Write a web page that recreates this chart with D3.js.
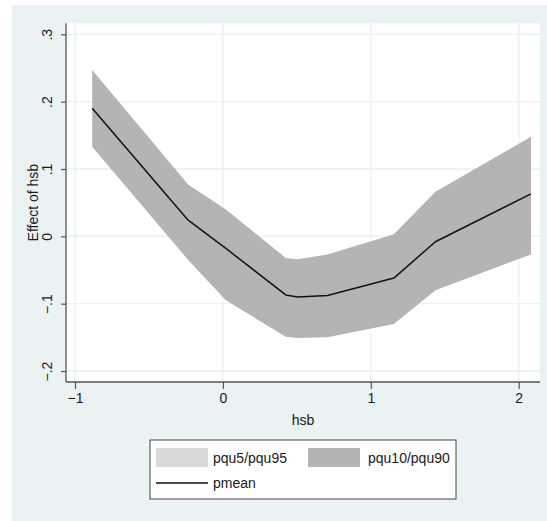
<!DOCTYPE html>
<html>
<head>
<meta charset="utf-8">
<script src="https://cdn.jsdelivr.net/npm/d3@7"></script>
<style>
  html, body { margin: 0; padding: 0; background: #ffffff; }
  svg { display: block; }
  text { font-family: "Liberation Sans Narrow", "Liberation Sans", Arial, sans-serif; fill: #1a1a1a; }
</style>
</head>
<body>
<script>
// ---- data ----
const hsb   = [-0.884, -0.235, 0.02, 0.425, 0.505, 0.707, 1.156, 1.437, 2.083];
const pmean = [0.190, 0.024, -0.018, -0.087, -0.090, -0.088, -0.062, -0.008, 0.063];
const pqu90 = [0.247, 0.077, 0.040, -0.032, -0.034, -0.027, 0.003, 0.066, 0.148];
const pqu10 = [0.133, -0.035, -0.095, -0.149, -0.151, -0.150, -0.130, -0.080, -0.027];
const xTicks = [-1, 0, 1, 2];
const yTicks = [-0.2, -0.1, 0, 0.1, 0.2, 0.3];
const yTickLabels = ["\u2212.2", "\u2212.1", "0", ".1", ".2", ".3"];
const xTickLabels = ["\u22121", "0", "1", "2"];
const legendItems = ["pqu5/pqu95", "pqu10/pqu90", "pmean"];

const W = 547, H = 521;
const svg = d3.select("body").append("svg").attr("width", W).attr("height", H);

// outer graph region
svg.append("rect").attr("x", 12).attr("y", 5).attr("width", W - 12).attr("height", H - 5)
  .attr("fill", "#eaf2f3");

const plot = { left: 66, right: 540, top: 23.3, bottom: 382 };
const x = d3.scaleLinear().domain([-1.061, 2.144]).range([plot.left, plot.right]);
const y = d3.scaleLinear().domain([-0.2163, 0.3163]).range([plot.bottom, plot.top]);

// plot region
svg.append("rect").attr("x", plot.left).attr("y", plot.top)
  .attr("width", plot.right - plot.left).attr("height", plot.bottom - plot.top)
  .attr("fill", "#ffffff");

// gridlines
const grid = svg.append("g").attr("stroke", "#e9f1f2").attr("stroke-width", 1.4);
grid.selectAll("line.h").data(yTicks).join("line")
  .attr("x1", plot.left).attr("x2", plot.right)
  .attr("y1", d => y(d)).attr("y2", d => y(d));
grid.selectAll("line.v").data(xTicks).join("line")
  .attr("y1", plot.top).attr("y2", plot.bottom)
  .attr("x1", d => x(d)).attr("x2", d => x(d));

const pts = hsb.map((h, i) => ({ h, m: pmean[i], lo: pqu10[i], hi: pqu90[i] }));

// band
svg.append("path").datum(pts)
  .attr("fill", "#b4b4b4")
  .attr("d", d3.area().x(d => x(d.h)).y0(d => y(d.lo)).y1(d => y(d.hi)));

// mean line
svg.append("path").datum(pts)
  .attr("fill", "none").attr("stroke", "#111").attr("stroke-width", 1.5)
  .attr("stroke-linejoin", "round")
  .attr("d", d3.line().x(d => x(d.h)).y(d => y(d.m)));

// axes
const axisColor = "#555";
const yAxis = svg.append("g").attr("transform", `translate(${plot.left},0)`)
  .call(d3.axisLeft(y).tickValues(yTicks).tickSize(5).tickFormat((d, i) => yTickLabels[i]));
yAxis.select(".domain").attr("d", `M0,${plot.top}V${plot.bottom}`).attr("stroke", axisColor).attr("stroke-width", 1.3);
yAxis.selectAll(".tick line").attr("stroke", axisColor).attr("stroke-width", 1.2);
yAxis.selectAll(".tick text")
  .attr("x", 0).attr("dy", null)
  .attr("text-anchor", "middle")
  .attr("transform", "translate(-19,0) rotate(-90)")
  .attr("dominant-baseline", "central")
  .style("font-size", "14px").style("font-family", '"Liberation Sans Narrow", "Liberation Sans", Arial, sans-serif')
  .attr("fill", "#1a1a1a");

const xAxis = svg.append("g").attr("transform", `translate(0,${plot.bottom})`)
  .call(d3.axisBottom(x).tickValues(xTicks).tickSize(7).tickPadding(4).tickFormat((d, i) => xTickLabels[i]));
xAxis.select(".domain").attr("d", `M${plot.left},0H${plot.right}`).attr("stroke", axisColor).attr("stroke-width", 1.3);
xAxis.selectAll(".tick line").attr("stroke", axisColor).attr("stroke-width", 1.2);
xAxis.selectAll(".tick text")
  .style("font-size", "14px").style("font-family", '"Liberation Sans Narrow", "Liberation Sans", Arial, sans-serif')
  .attr("fill", "#1a1a1a");

// axis titles
svg.append("text").attr("x", (plot.left + plot.right) / 2).attr("y", 425)
  .attr("text-anchor", "middle").style("font-size", "14px").text("hsb");
svg.append("text")
  .attr("transform", `translate(38,${(plot.top + plot.bottom) / 2}) rotate(-90)`)
  .attr("text-anchor", "middle").style("font-size", "14px").text("Effect of hsb");

// legend
const lg = svg.append("g");
lg.append("rect").attr("x", 150).attr("y", 440).attr("width", 306).attr("height", 59)
  .attr("fill", "#fff").attr("stroke", "#444").attr("stroke-width", 1);
lg.append("rect").attr("x", 156).attr("y", 448).attr("width", 52).attr("height", 19).attr("fill", "#d9d9d9");
lg.append("text").attr("x", 213).attr("y", 463).style("font-size", "14px").text(legendItems[0]);
lg.append("rect").attr("x", 308).attr("y", 448).attr("width", 52).attr("height", 19).attr("fill", "#b4b4b4");
lg.append("text").attr("x", 368).attr("y", 463).style("font-size", "14px").text(legendItems[1]);
lg.append("line").attr("x1", 156).attr("x2", 208).attr("y1", 483).attr("y2", 483)
  .attr("stroke", "#111").attr("stroke-width", 1.5);
lg.append("text").attr("x", 213).attr("y", 488).style("font-size", "14px").text(legendItems[2]);
</script>
</body>
</html>
